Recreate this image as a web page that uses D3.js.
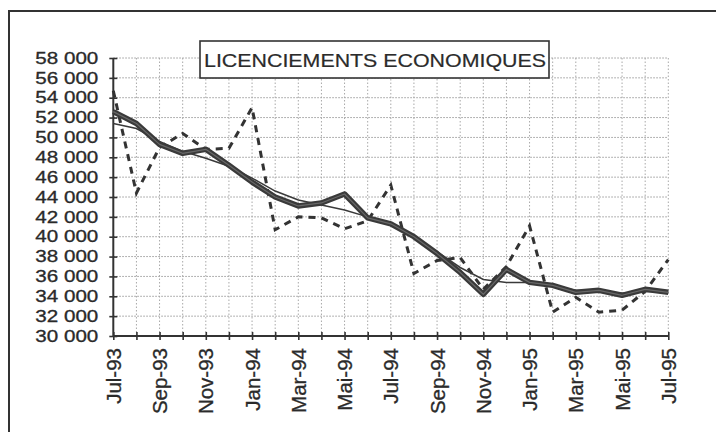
<!DOCTYPE html>
<html><head><meta charset="utf-8">
<script src="https://cdn.jsdelivr.net/npm/d3@7/dist/d3.min.js"></script>
<style>
html,body{margin:0;padding:0;background:#fff;}
svg{display:block;}
text{font-family:"Liberation Sans",Arial,sans-serif;fill:#2b2b2b;}
</style></head>
<body>
<svg id="c" width="716" height="432"></svg>
<script>
const title = "LICENCIEMENTS ECONOMIQUES";
const months = ["Jul-93","Aoû-93","Sep-93","Oct-93","Nov-93","Déc-93","Jan-94","Fév-94","Mar-94","Avr-94","Mai-94","Jun-94","Jul-94","Aoû-94","Sep-94","Oct-94","Nov-94","Déc-94","Jan-95","Fév-95","Mar-95","Avr-95","Mai-95","Jun-95","Jul-95"];
const rawValues = [54700,44400,49000,50400,48800,48900,53000,40700,42000,41900,40800,41600,45200,36300,37600,37900,34700,37000,41100,32400,33900,32400,32600,34500,37700];
const adjustedValues = [52600,51400,49300,48400,48800,47200,45500,44000,43100,43400,44300,41900,41300,40000,38300,36400,34200,36700,35400,35100,34400,34600,34100,34700,34400];
const trendValues = [51400,50900,49600,48600,47900,47100,45900,44600,43700,43200,42700,42000,41200,40000,38500,36900,35700,35400,35400,35000,34600,34500,34300,34500,34400];
const yTicks = [30000,32000,34000,36000,38000,40000,42000,44000,46000,48000,50000,52000,54000,56000,58000];
const xLabelMonths = ["Jul-93","Sep-93","Nov-93","Jan-94","Mar-94","Mai-94","Jul-94","Sep-94","Nov-94","Jan-95","Mar-95","Mai-95","Jul-95"];

const svg = d3.select("#c");
const pL = 113.3, pR = 668.3, pT = 58, pB = 336;
const x = d3.scalePoint().domain(months).range([pL, pR]);
const y = d3.scaleLinear().domain([30000, 58000]).range([pB, pT]);
const fr = d3.formatLocale({decimal: ",", thousands: " ", grouping: [3], currency: ["", ""]}).format(",");

// outer frame
svg.append("rect").attr("x", 9).attr("y", 11).attr("width", 740).attr("height", 440)
  .attr("fill", "#fff").attr("stroke", "#333").attr("stroke-width", 2);

// grid
const g = svg.append("g");
g.selectAll("line.h").data(yTicks.filter(v => v > 30000)).join("line")
  .attr("x1", pL).attr("x2", pR).attr("y1", d => y(d)).attr("y2", d => y(d))
  .attr("stroke", "#9a9a9a").attr("stroke-width", 1).attr("stroke-dasharray", "1.5,1.5");
g.selectAll("line.v").data(months.slice(1)).join("line")
  .attr("x1", d => x(d)).attr("x2", d => x(d)).attr("y1", pT).attr("y2", pB)
  .attr("stroke", "#a8a8a8").attr("stroke-width", 1).attr("stroke-dasharray", "1.5,2");

// title box
svg.append("rect").attr("x", 200).attr("y", 41).attr("width", 349).attr("height", 37)
  .attr("fill", "#fff").attr("stroke", "#333").attr("stroke-width", 1.6);
svg.append("text").attr("x", 204).attr("y", 67).attr("font-size", 19)
  .attr("stroke", "#2b2b2b").attr("stroke-width", 0.2)
  .attr("textLength", 342).attr("lengthAdjust", "spacingAndGlyphs").text(title);

// y axis
const ya = svg.append("g").attr("transform", `translate(${pL},0)`)
  .call(d3.axisLeft(y).tickValues(yTicks).tickFormat(fr).tickSize(4).tickPadding(11));
ya.select(".domain").attr("stroke", "#333").attr("stroke-width", 2).attr("d", `M0,${pT}V${pB}`);
ya.selectAll(".tick line").attr("x1", -4).attr("x2", 4).attr("stroke", "#333").attr("stroke-width", 1.6);
ya.selectAll(".tick text").attr("font-size", 16.5).attr("font-family", "Liberation Sans, Arial, sans-serif")
  .attr("fill", "#262626").attr("stroke", "#262626").attr("stroke-width", 0.3)
  .attr("textLength", 63).attr("lengthAdjust", "spacingAndGlyphs");

// x axis
const xa = svg.append("g").attr("transform", `translate(0,${pB})`)
  .call(d3.axisBottom(x).tickValues(months).tickFormat(d => xLabelMonths.includes(d) ? d : "").tickSize(4).tickPadding(8));
xa.select(".domain").attr("stroke", "#333").attr("stroke-width", 2).attr("d", `M${pL},0H${pR}`);
xa.selectAll(".tick line").attr("y1", -4).attr("y2", 4).attr("stroke", "#333").attr("stroke-width", 1.6);
xa.selectAll(".tick text").attr("font-size", 20.5).attr("font-family", "Liberation Sans, Arial, sans-serif")
  .attr("fill", "#262626").attr("stroke", "#262626").attr("stroke-width", 0.3)
  .attr("transform", "rotate(-90)").attr("text-anchor", "end")
  .attr("x", -12).attr("y", 0).attr("dy", "0.35em");

// lines
const line = d3.line().x((d, i) => x(months[i])).y(d => y(d));
svg.append("path").datum(rawValues).attr("d", line).attr("fill", "none")
  .attr("stroke", "#333").attr("stroke-width", 3).attr("stroke-dasharray", "7,6");
svg.append("path").datum(trendValues).attr("d", line).attr("fill", "none")
  .attr("stroke", "#3a3a3a").attr("stroke-width", 1.5);
svg.append("path").datum(adjustedValues).attr("d", line).attr("fill", "none")
  .attr("stroke", "#3a3a3a").attr("stroke-width", 5.5).attr("stroke-linejoin", "round");
svg.append("path").datum(adjustedValues).attr("d", line).attr("fill", "none")
  .attr("stroke", "#686868").attr("stroke-width", 1.2).attr("stroke-linejoin", "round");
</script>
</body></html>
